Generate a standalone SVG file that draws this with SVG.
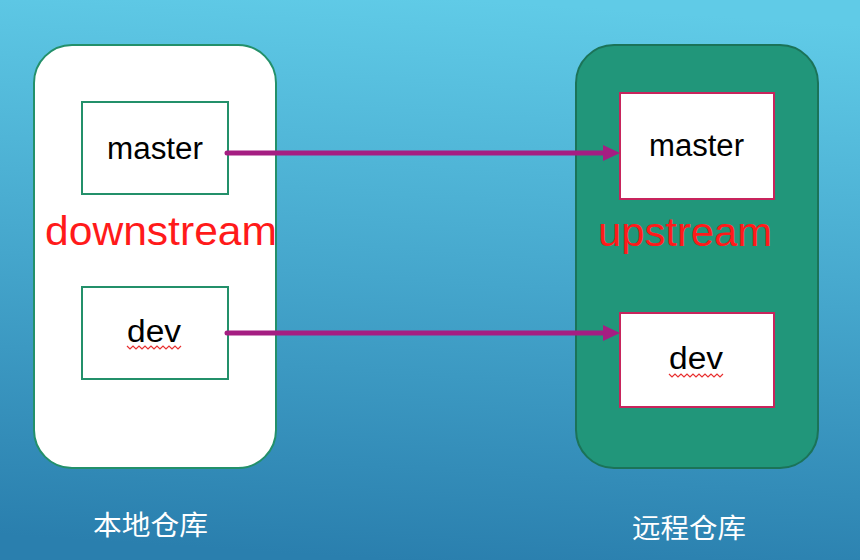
<svg xmlns="http://www.w3.org/2000/svg" width="860" height="560" viewBox="0 0 860 560">
  <defs>
    <linearGradient id="bg" x1="0.55" y1="0" x2="0.45" y2="1">
      <stop offset="0" stop-color="#60cbe7"/>
      <stop offset="0.5" stop-color="#45a6cc"/>
      <stop offset="1" stop-color="#2a7fae"/>
    </linearGradient>
    <marker id="arrow" viewBox="0 0 17 16" refX="1" refY="8" markerWidth="17" markerHeight="16" markerUnits="userSpaceOnUse" orient="auto">
      <path d="M0,0 L17,8 L0,16 Z" fill="#a51e82"/>
    </marker>
    <style>
      .branch { font-family: "Liberation Sans", Arial, sans-serif; font-size: 31px; fill: #000; }
      .role { font-family: "Liberation Sans", Arial, sans-serif; font-size: 40px; fill: #ff1a1a; }
      .cn { font-family: "Noto Sans CJK SC", sans-serif; font-size: 27px; fill: #ffffff; }
      .localbox { fill: #ffffff; stroke: #23906a; stroke-width: 2; }
      .remotebox { fill: #ffffff; stroke: #c8245c; stroke-width: 2; }
      .squiggle { fill: none; stroke: #e83030; stroke-width: 1.2; }
      .conn { stroke: #a51e82; stroke-width: 5; stroke-linecap: round; fill: none; }
    </style>
  </defs>
  <rect width="860" height="560" fill="url(#bg)"/>

  <g id="local-repo">
    <rect x="34" y="45" width="242" height="423" rx="38" ry="38" fill="#ffffff" stroke="#23906a" stroke-width="2"/>
    <text class="role" x="45" y="245" textLength="232" lengthAdjust="spacingAndGlyphs">downstream</text>
  </g>
  <g id="local-master">
    <rect class="localbox" x="82" y="102" width="146" height="92"/>
    <text class="branch" x="107" y="159" textLength="96" lengthAdjust="spacingAndGlyphs">master</text>
  </g>
  <g id="local-dev">
    <rect class="localbox" x="82" y="287" width="146" height="92"/>
    <text class="branch" x="127" y="342" textLength="54" lengthAdjust="spacingAndGlyphs">dev</text>
    <path class="squiggle" d="M127,346 l3,3 l3,-3 l3,3 l3,-3 l3,3 l3,-3 l3,3 l3,-3 l3,3 l3,-3 l3,3 l3,-3 l3,3 l3,-3 l3,3 l3,-3 l3,3 l3,-3"/>
  </g>

  <g id="remote-repo">
    <rect x="576" y="45" width="242" height="423" rx="38" ry="38" fill="#21967a" stroke="#1b7358" stroke-width="2"/>
    <text class="role" x="598" y="246" textLength="174" lengthAdjust="spacingAndGlyphs">upstream</text>
  </g>
  <g id="remote-master">
    <rect class="remotebox" x="620" y="93" width="154" height="106"/>
    <text class="branch" x="649" y="156" textLength="95" lengthAdjust="spacingAndGlyphs">master</text>
  </g>
  <g id="remote-dev">
    <rect class="remotebox" x="620" y="313" width="154" height="94"/>
    <text class="branch" x="669" y="369" textLength="54" lengthAdjust="spacingAndGlyphs">dev</text>
    <path class="squiggle" d="M669,374 l3,3 l3,-3 l3,3 l3,-3 l3,3 l3,-3 l3,3 l3,-3 l3,3 l3,-3 l3,3 l3,-3 l3,3 l3,-3 l3,3 l3,-3 l3,3 l3,-3"/>
  </g>

  <g id="connectors">
    <line class="conn" x1="227" y1="153" x2="604" y2="153" marker-end="url(#arrow)"/>
    <line class="conn" x1="227" y1="333" x2="604" y2="333" marker-end="url(#arrow)"/>
  </g>

  <g id="labels">
    <text class="cn" x="93" y="535" textLength="115" lengthAdjust="spacingAndGlyphs">本地仓库</text>
    <text class="cn" x="632" y="538" textLength="114" lengthAdjust="spacingAndGlyphs">远程仓库</text>
  </g>
</svg>
